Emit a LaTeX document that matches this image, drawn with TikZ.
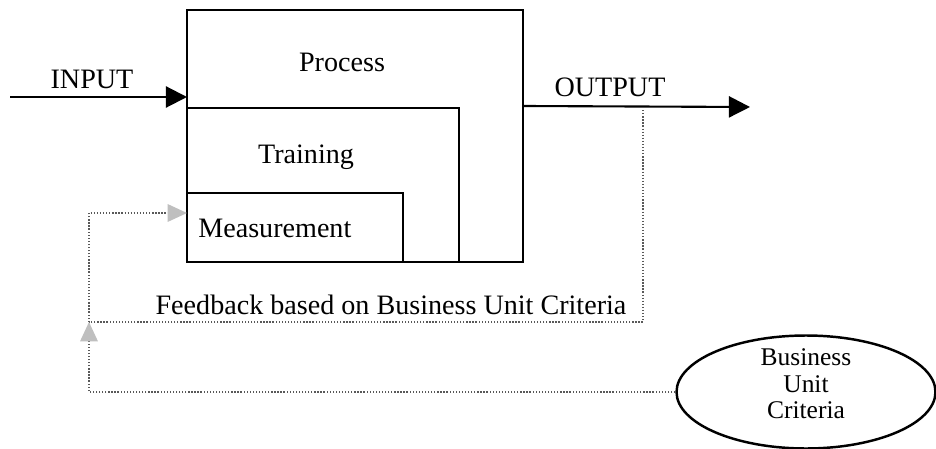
\documentclass[tikz,border=0pt]{standalone}
\usepackage{fontspec}
\setmainfont{Liberation Serif}
\usetikzlibrary{arrows.meta,shapes.geometric}
\tikzset{
boxline/.style={line width=1.6pt},
flow/.style={line width=1.2pt, -{Triangle[length=12pt,width=12pt]}},
fback/.style={black!65, densely dotted, line width=0.75pt},
fbhead/.style={fback, -{Triangle[length=11pt,width=10pt,fill=gray!50,color=gray!50]}},
lbl/.style={font=\fontsize{16}{19}\selectfont, inner sep=0pt},
crit/.style={ellipse, draw, line width=1.4pt, minimum width=5.18cm, minimum height=2.26cm},
critlbl/.style={align=center, inner sep=0pt, font=\fontsize{14.5}{15}\selectfont}
}
\begin{document}
\begin{tikzpicture}[x=0.02cm,y=-0.02cm]
\useasboundingbox (0,0) rectangle (936,449);
  % the three nested boxes
  \draw[boxline] (187,10) rectangle (523,262);
  \draw[boxline] (187,108) -- (459,108) -- (459,262);
  \draw[boxline] (187,193) -- (403,193) -- (403,262);
  \node[lbl] (proc) at (342,62) {Process};
  \node[lbl] (train) at (306,157) {Training};
  \node[lbl, anchor=west] (meas) at (198,228) {Measurement};
  \coordinate (measin) at (187,213);

  % input and output
  \coordinate (src) at (10,97);
  \coordinate (inp) at (187,97);
  \draw[flow] (src) -- (inp);
  \node[lbl] (inlbl) at (92,79) {INPUT};
  \coordinate (outp) at (523,106);
  \coordinate (sink) at (750,107);
  \draw[flow] (outp) -- (sink);
  \node[lbl] (outlbl) at (610,87) {OUTPUT};

  % feedback loops
  \node[crit] (bu) at (806,392) {};
  \node[critlbl] (butxt) at (806,384) {Business\\Unit\\Criteria};
  \coordinate (tap) at (643,107);
  \coordinate (jn) at (89,322);
  \draw[fback] (tap) |- (jn);
  \draw[fbhead] (bu.west) -| (jn);
  \draw[fbhead] (jn) |- (measin);
  \node[lbl] (fblbl) at (391,305) {Feedback based on Business Unit Criteria};
\end{tikzpicture}
\end{document}
